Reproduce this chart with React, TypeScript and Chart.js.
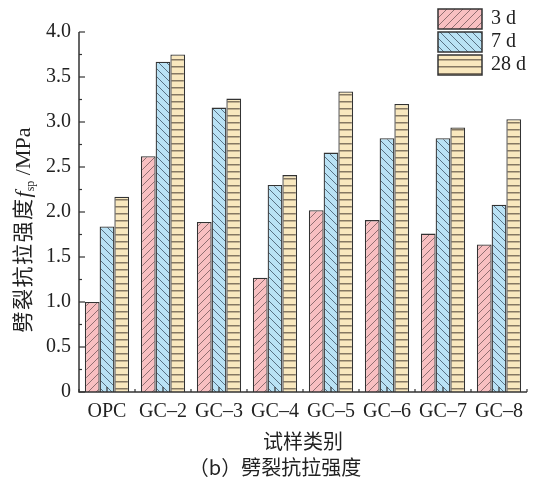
import React, { useEffect, useRef } from 'react';
import { Chart, registerables } from 'chart.js';

Chart.register(...registerables);

const categories = ['OPC', 'GC–2', 'GC–3', 'GC–4', 'GC–5', 'GC–6', 'GC–7', 'GC–8'];
const seriesNames = ['3 d', '7 d', '28 d'];
const values3d = [1.0, 2.62, 1.89, 1.27, 2.02, 1.91, 1.76, 1.64];
const values7d = [1.84, 3.67, 3.16, 2.3, 2.66, 2.82, 2.82, 2.08];
const values28d = [2.17, 3.75, 3.26, 2.41, 3.34, 3.2, 2.94, 3.03];
const yTicks = [0, 0.5, 1.0, 1.5, 2.0, 2.5, 3.0, 3.5, 4.0];
const xTitle = '试样类别';
const caption = '（b）劈裂抗拉强度';
const yTitleCjk = '劈裂抗拉强度';

const SERIF = '"Liberation Serif", "Times New Roman", serif';
const CJK = '"Noto Sans CJK SC", sans-serif';
const AXIS = '#333333';
const TEXT = '#222222';

function makePattern(kind: 'fwd' | 'back' | 'horiz'): CanvasPattern | string {
  const c = document.createElement('canvas');
  const s = kind === 'horiz' ? 7 : 8;
  c.width = 8;
  c.height = s;
  const g = c.getContext('2d');
  if (!g) return '#ccc';
  if (kind === 'fwd') {
    g.fillStyle = '#f8bfc1';
    g.fillRect(0, 0, 8, 8);
    g.strokeStyle = 'rgba(125,95,98,0.85)';
    g.lineWidth = 1;
    g.beginPath();
    g.moveTo(0, 8); g.lineTo(8, 0);
    g.moveTo(-1, 1); g.lineTo(1, -1);
    g.moveTo(7, 9); g.lineTo(9, 7);
    g.stroke();
  } else if (kind === 'back') {
    g.fillStyle = '#b9e2f5';
    g.fillRect(0, 0, 8, 8);
    g.strokeStyle = 'rgba(70,92,110,0.85)';
    g.lineWidth = 1;
    g.beginPath();
    g.moveTo(0, 0); g.lineTo(8, 8);
    g.moveTo(-1, 7); g.lineTo(1, 9);
    g.moveTo(7, -1); g.lineTo(9, 1);
    g.stroke();
  } else {
    g.fillStyle = '#f9e8be';
    g.fillRect(0, 0, 8, s);
    g.fillStyle = 'rgba(120,108,88,0.9)';
    g.fillRect(0, 3, 8, 1.5);
  }
  const p = g.createPattern(c, 'repeat');
  return p || '#ccc';
}

const decorPlugin = {
  id: 'decor',
  afterDatasetsDraw(chart: any) {
    const { ctx, chartArea: a, scales } = chart;
    const x = scales.x;
    const y = scales.y;
    ctx.save();
    ctx.strokeStyle = AXIS;
    ctx.lineWidth = 1.5;
    ctx.beginPath();
    ctx.moveTo(a.left, a.top);
    ctx.lineTo(a.left, a.bottom);
    ctx.lineTo(a.right, a.bottom);
    ctx.stroke();
    ctx.lineWidth = 1.2;
    for (let i = 0; i < yTicks.length; i++) {
      const v = yTicks[i];
      const py = y.getPixelForValue(v);
      ctx.beginPath();
      ctx.moveTo(a.left, py);
      ctx.lineTo(a.left + 6, py);
      ctx.stroke();
      if (i < yTicks.length - 1) {
        const pm = y.getPixelForValue((v + yTicks[i + 1]) / 2);
        ctx.beginPath();
        ctx.moveTo(a.left, pm);
        ctx.lineTo(a.left + 3, pm);
        ctx.stroke();
      }
    }
    for (let i = 0; i < categories.length; i++) {
      const pc = x.getPixelForValue(i);
      ctx.beginPath();
      ctx.moveTo(pc, a.bottom);
      ctx.lineTo(pc, a.bottom - 5);
      ctx.stroke();
    }
    for (let i = 0; i <= categories.length; i++) {
      const pb = x.getPixelForValue(i - 0.5);
      ctx.beginPath();
      ctx.moveTo(pb, a.bottom);
      ctx.lineTo(pb, a.bottom - 3);
      ctx.stroke();
    }
    ctx.restore();
  },
  afterDraw(chart: any) {
    const { ctx, chartArea: a } = chart;
    ctx.save();
    ctx.fillStyle = TEXT;
    ctx.textAlign = 'center';
    ctx.textBaseline = 'middle';
    ctx.font = '20px ' + CJK;
    ctx.fillText(xTitle, (a.left + a.right) / 2, 441);
    ctx.fillText(caption, 275, 467);

    const segs = [
      { t: yTitleCjk, f: '21px ' + CJK, dy: 0, ls: '1.5px' },
      { t: 'f', f: 'italic 22px ' + SERIF, dy: 0, ls: '0px' },
      { t: 'sp', f: '12px ' + SERIF, dy: 4, ls: '0px' },
      { t: ' /MPa', f: '22px ' + SERIF, dy: 0, ls: '0px' },
    ];
    let total = 0;
    const widths: number[] = [];
    for (const s of segs) {
      ctx.font = s.f;
      (ctx as any).letterSpacing = s.ls;
      const w = ctx.measureText(s.t).width;
      widths.push(w);
      total += w;
    }
    ctx.translate(23, 230);
    ctx.rotate(-Math.PI / 2);
    ctx.textAlign = 'left';
    ctx.textBaseline = 'alphabetic';
    let cx = -total / 2;
    segs.forEach((s, i) => {
      ctx.font = s.f;
      (ctx as any).letterSpacing = s.ls;
      ctx.fillText(s.t, cx, 7 + s.dy);
      cx += widths[i];
    });
    (ctx as any).letterSpacing = '0px';
    ctx.restore();

    ctx.save();
    const ds = chart.data.datasets;
    for (let i = 0; i < ds.length; i++) {
      const by = 9 + i * 23;
      ctx.fillStyle = ds[i].backgroundColor;
      ctx.fillRect(438, by, 44, 20);
      ctx.strokeStyle = AXIS;
      ctx.lineWidth = 1.5;
      ctx.strokeRect(438, by, 44, 20);
      ctx.fillStyle = TEXT;
      ctx.font = '20px ' + SERIF;
      ctx.textAlign = 'left';
      ctx.textBaseline = 'middle';
      ctx.fillText(ds[i].label, 491, by + 10);
    }
    ctx.restore();
  },
};

export default function App() {
  const ref = useRef<HTMLCanvasElement | null>(null);
  useEffect(() => {
    document.body.style.margin = '0';
    const canvas = ref.current;
    if (!canvas) return;
    const fills = [makePattern('fwd'), makePattern('back'), makePattern('horiz')];
    const seriesValues = [values3d, values7d, values28d];
    const chart = new Chart(canvas, {
      type: 'bar',
      data: {
        labels: categories,
        datasets: seriesNames.map((name, i) => ({
          label: name,
          data: seriesValues[i],
          backgroundColor: fills[i] as any,
          borderColor: AXIS,
          borderWidth: 1.3,
          categoryPercentage: 0.79,
          barPercentage: 1.0,
        })),
      },
      options: {
        animation: false,
        responsive: false,
        maintainAspectRatio: false,
        layout: { padding: { top: 32, right: 12, left: 0, bottom: 0 } },
        plugins: {
          legend: { display: false },
          tooltip: { enabled: false },
          title: { display: false },
        },
        scales: {
          x: {
            type: 'category',
            offset: true,
            grid: { display: false, drawTicks: false },
            border: { display: false },
            ticks: {
              color: TEXT,
              font: { family: SERIF, size: 20 },
              padding: 8,
              maxRotation: 0,
              autoSkip: false,
            },
            afterFit: (s: any) => { s.height = 94; },
          },
          y: {
            min: 0,
            max: 4,
            grid: { display: false, drawTicks: false },
            border: { display: false },
            ticks: {
              stepSize: 0.5,
              color: TEXT,
              font: { family: SERIF, size: 20 },
              padding: 8,
              callback: (v: any) => (Number(v) === 0 ? '0' : Number(v).toFixed(1)),
            },
            afterFit: (s: any) => { s.width = 79; },
          },
        },
      },
      plugins: [decorPlugin],
    });
    return () => chart.destroy();
  }, []);
  return (
    <div style={{ width: 539, height: 486 }}>
      <canvas ref={ref} width={539} height={486} style={{ display: 'block' }} />
    </div>
  );
}
